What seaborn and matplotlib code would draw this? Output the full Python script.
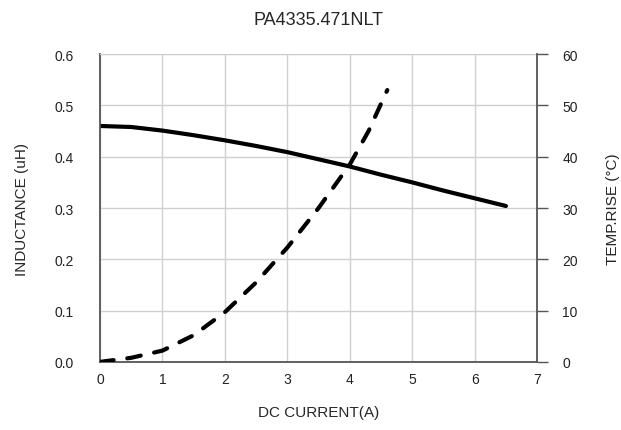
import matplotlib
matplotlib.use("Agg")
import matplotlib.pyplot as plt
import seaborn as sns
import pandas as pd

# inductance curve (left axis)
current_l = [0, 0.5, 1, 1.5, 2, 2.5, 3, 3.5, 4, 4.5, 5, 5.5, 6, 6.5]
inductance = [0.460, 0.458, 0.451, 0.442, 0.432, 0.421, 0.409, 0.395, 0.381, 0.365, 0.350, 0.334, 0.319, 0.304]

# temperature rise curve (right axis)
current_t = [0, 0.5, 1, 1.5, 2, 2.5, 3, 3.5, 4, 4.3, 4.6]
temp_rise = [0, 0.8, 2.2, 5.2, 9.7, 15.5, 22.3, 30.0, 38.5, 45.0, 53.0]

sns.set_style("white")
plt.rcParams['font.family'] = ['Liberation Sans', 'DejaVu Sans']

fig = plt.figure(figsize=(6.21, 4.31), dpi=100)
ax = fig.add_axes([0.161, 0.158, 0.704, 0.714])

df_l = pd.DataFrame({"x": current_l, "y": inductance})
sns.lineplot(data=df_l, x="x", y="y", ax=ax, color="black", linewidth=3,
             solid_capstyle="round")

ax2 = ax.twinx()
df_t = pd.DataFrame({"x": current_t, "y": temp_rise})
sns.lineplot(data=df_t, x="x", y="y", ax=ax2, color="black", linewidth=3,
             linestyle=(0, (3.3, 3.3)), dash_capstyle="round")

ax.set_xlim(0, 7)
ax.set_ylim(0, 0.6)
ax2.set_ylim(0, 60)
ax.set_xticks(range(0, 8))
ax.set_yticks([0, 0.1, 0.2, 0.3, 0.4, 0.5, 0.6])
ax.set_yticklabels(["0.0", "0.1", "0.2", "0.3", "0.4", "0.5", "0.6"])
ax2.set_yticks(range(0, 61, 10))

ax.grid(True, color="#d0d0d0", linewidth=1)
ax.set_axisbelow(True)

for s in ["left", "bottom"]:
    ax.spines[s].set_color("#555555")
    ax.spines[s].set_linewidth(1.3)
ax.spines["top"].set_color("#cccccc")
ax.spines["right"].set_visible(False)
for s in ["left", "bottom", "top"]:
    ax2.spines[s].set_visible(False)
ax2.spines["right"].set_color("#555555")
ax2.spines["right"].set_linewidth(1.3)

ax.tick_params(axis="x", length=0, labelsize=10, pad=7, colors="#222222")
ax.tick_params(axis="y", length=0, labelsize=10, pad=19, colors="#222222")
ax2.tick_params(axis="y", length=8, width=1, color="#555555", labelsize=10, pad=10, labelcolor="#222222")

ax.set_xlabel("DC CURRENT(A)", fontsize=11, labelpad=14)
ax.set_ylabel("INDUCTANCE (uH)", fontsize=11, labelpad=18)
ax2.set_ylabel("TEMP.RISE (°C)", fontsize=11, labelpad=20)
ax.set_title("PA4335.471NLT", fontsize=13, pad=22)

fig.savefig("out.png", dpi=100)
